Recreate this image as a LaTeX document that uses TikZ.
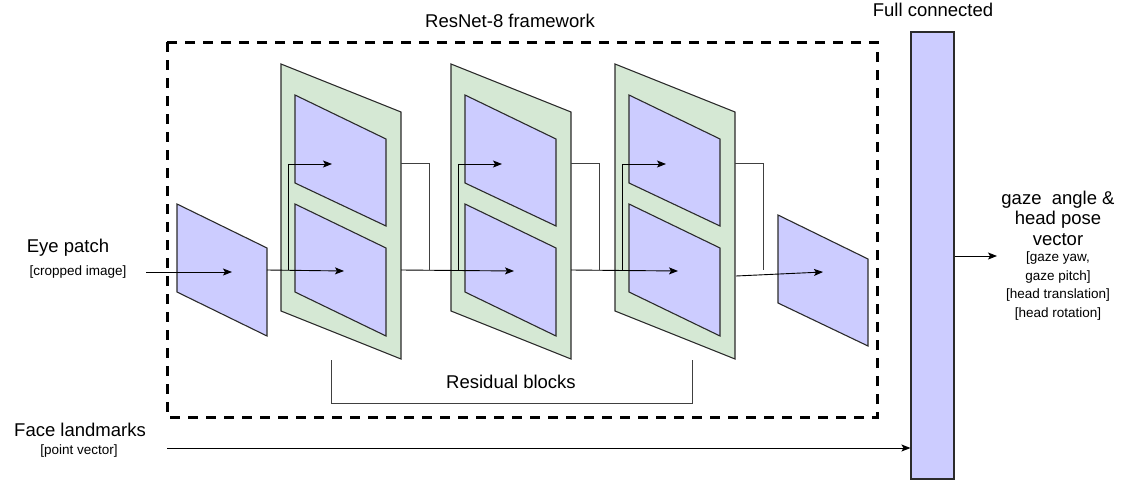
\documentclass[tikz,border=0pt]{standalone}
\usepackage{fontspec}
\setmainfont{Liberation Sans}
\usetikzlibrary{arrows.meta}
\definecolor{gfill}{HTML}{D5E8D4}
\definecolor{bfill}{HTML}{CCCCFF}
\definecolor{edgec}{HTML}{2B2B2B}
\definecolor{skipc}{HTML}{404040}
\tikzset{
  greenpar/.style={fill=gfill, draw=edgec, line width=1.1pt, line join=miter},
  bluepar/.style={fill=bfill, draw=edgec, line width=1.1pt, line join=miter},
  conn/.style={draw=black, line width=0.9pt},
  skipline/.style={draw=skipc, line width=1pt},
  arr/.style={conn, -{Stealth[length=9pt,width=7pt,inset=2pt]}},
  bigtxt/.style={font=\fontsize{18.5}{20.5}\selectfont, align=center, inner sep=0pt},
  smalltxt/.style={font=\fontsize{13.5}{18.5}\selectfont, align=center, inner sep=0pt},
}
\begin{document}
\begin{tikzpicture}[x=1pt,y=-1pt]
\useasboundingbox (0,0) rectangle (1125,482);

% ResNet frame
\draw[line width=3pt, dash pattern=on 10pt off 8pt] (167,42) rectangle (877,417);
\node[bigtxt] (title) at (510,21) {ResNet-8 framework};

% input feature map
\draw[bluepar] (177,204) -- (267,248) -- (267,336) -- (177,292) -- cycle;
\coordinate (inR) at (267,270);
\coordinate (inC) at (232,272);
\coordinate (eyeL) at (146,272);

% residual blocks
\foreach \i/\X in {1/281,2/451,3/615}{
  \draw[greenpar] (\X,64) -- ({\X+120},112) -- ({\X+120},359) -- (\X,311) -- cycle;
  \draw[bluepar] ({\X+14},95) -- ({\X+105},139) -- ({\X+105},226) -- ({\X+14},183) -- cycle;
  \draw[bluepar] ({\X+14},204) -- ({\X+105},248) -- ({\X+105},336) -- ({\X+14},292) -- cycle;
  \coordinate (gR\i) at ({\X+120},270);
  \coordinate (top\i) at ({\X+51},164);
  \coordinate (bot\i) at ({\X+63},271);
  \coordinate (br\i) at ({\X+7},270);
  \coordinate (skA\i) at ({\X+120},163);
  \coordinate (skC\i) at ({\X+148},270);
}

% output feature map
\draw[bluepar] (778,215) -- (868,259) -- (868,346) -- (778,303) -- cycle;
\coordinate (outC) at (823,272);
\coordinate (gR3b) at (736,276);

% connectors inside the framework
\draw[arr] (eyeL) -- (inC);
\draw[arr] (inR) -- (bot1);
\draw[arr] (gR1) -- (bot2);
\draw[arr] (gR2) -- (bot3);
\draw[arr] (gR3b) -- (outC);
\foreach \i in {1,2,3}{
  \draw[arr] (br\i) |- (top\i);
  \draw[skipline] (skA\i) -| (skC\i);
}

% residual bracket
\coordinate (brL) at (331,360);
\coordinate (brR) at (692,360);
\draw[skipline] (brL) |- (692,403) -- (brR);
\node[bigtxt] (resid) at (511,382) {Residual blocks};

% fully connected layer
\node[bluepar, draw, minimum width=43pt, minimum height=447pt, inner sep=0pt] (fc) at (932.5,255.5) {};
\node[bigtxt] (fctitle) at (933,10) {Full connected};

% inputs
\node[bigtxt] (eye) at (68,248) {Eye patch};
\node[smalltxt] (eyesub) at (78,272) {[cropped image]};
\node[bigtxt] (face) at (80,430) {Face landmarks};
\node[smalltxt] (facesub) at (79,451) {[point vector]};
\coordinate (faceL) at (167,448);
\draw[arr] (faceL) -- (fc.west |- faceL);

% output
\coordinate (outE) at (997,256);
\draw[arr] (fc.east |- outE) -- (outE);
\node[bigtxt] (res) at (1058,218) {gaze\ \ angle \&\\head pose\\vector};
\node[smalltxt] (ressub) at (1058,286) {[gaze yaw,\\gaze pitch]\\[0pt][head translation]\\[0pt][head rotation]};
\end{tikzpicture}
\end{document}
